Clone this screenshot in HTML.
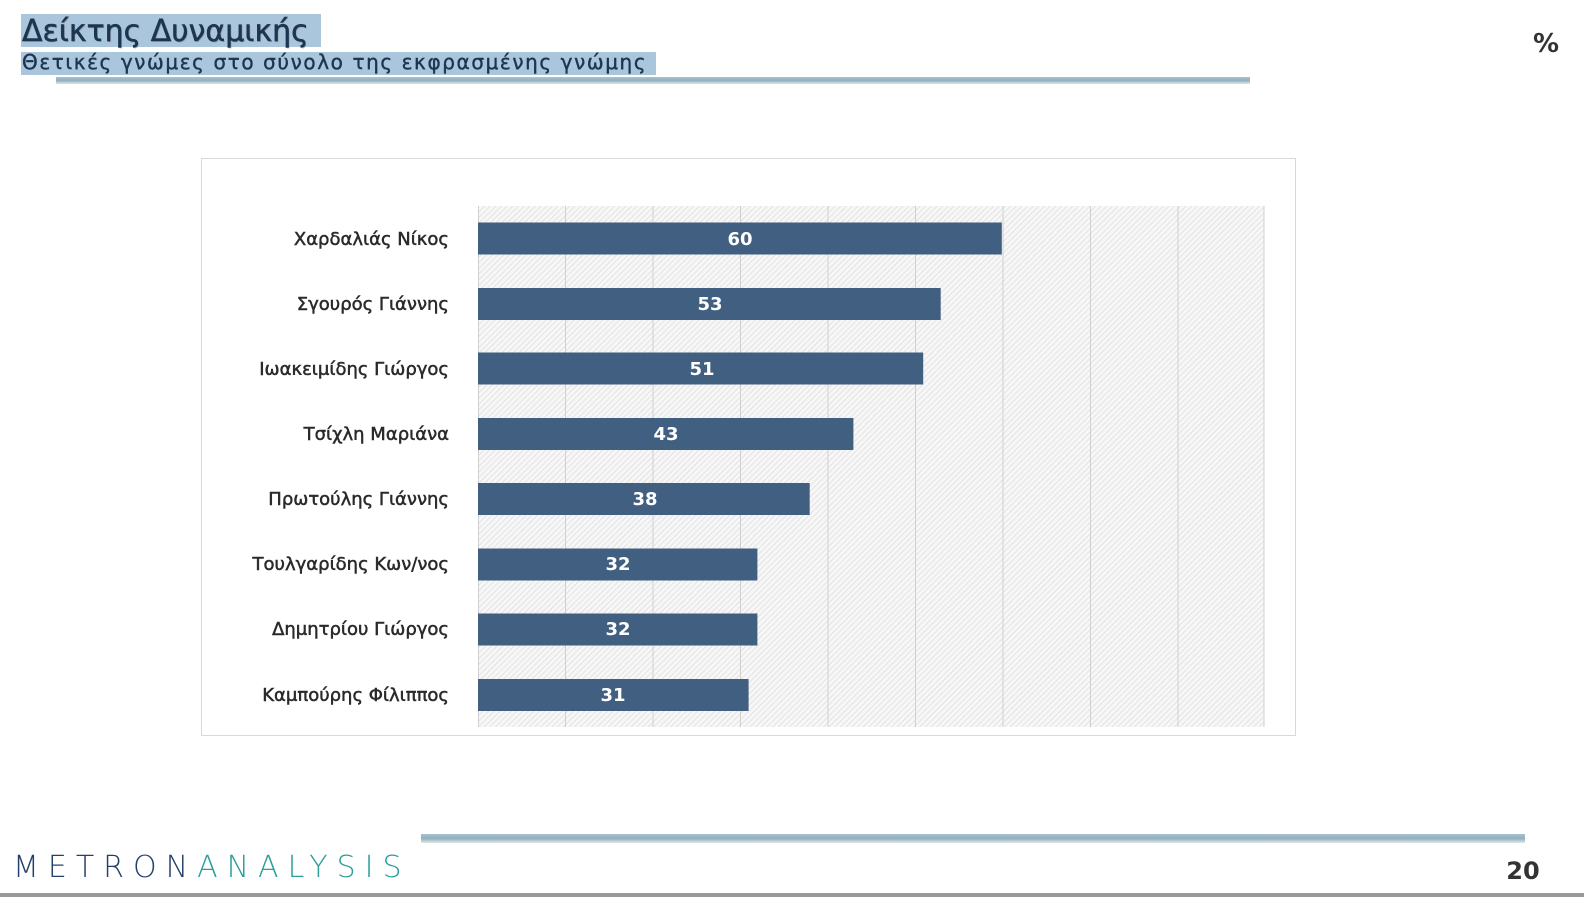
<!DOCTYPE html>
<html><head><meta charset="utf-8"><style>
html,body{margin:0;padding:0;background:#fff;}
body{width:1584px;height:897px;position:relative;overflow:hidden;font-family:"DejaVu Sans","Liberation Sans",sans-serif;}
</style></head><body>
<svg width="1584" height="897" viewBox="0 0 1584 897" xmlns="http://www.w3.org/2000/svg" style="position:absolute;left:0;top:0">
<defs>
<pattern id="h" width="4" height="4" patternUnits="userSpaceOnUse" patternTransform="rotate(45)">
<rect width="4" height="4" fill="#f7f7f7"/><line x1="0" y1="0" x2="0" y2="4" stroke="#d6d6d6" stroke-width="1.2"/>
</pattern>
<linearGradient id="ln" x1="0" x2="0" y1="0" y2="1"><stop offset="0" stop-color="#a9c3cf"/><stop offset="0.5" stop-color="#8fb0bf"/><stop offset="1" stop-color="#e6e6e6"/></linearGradient>
</defs>
<rect x="21" y="14" width="300" height="33" fill="#a9c6dd"/>
<rect x="21" y="52" width="635" height="23" fill="#a9c6dd"/>
<text x="23" y="42" font-size="30" fill="#888" opacity="0.5" font-family="DejaVu Sans,sans-serif">Δείκτης Δυναμικής</text>
<text x="22" y="41" font-size="30" fill="#1d3550" stroke="#1d3550" stroke-width="0.5" font-family="DejaVu Sans,sans-serif">Δείκτης Δυναμικής</text>
<text x="22" y="69" font-size="20" fill="#1d3550" stroke="#1d3550" stroke-width="0.4" letter-spacing="1.6" font-family="DejaVu Sans,sans-serif">Θετικές γνώμες στο σύνολο της εκφρασμένης γνώμης</text>
<rect x="56" y="77" width="1194" height="7" fill="url(#ln)"/>
<text x="1546" y="52" font-size="26" font-weight="bold" fill="#333" text-anchor="middle">%</text>
<rect x="201.5" y="158.5" width="1094" height="577" fill="#fff" stroke="#d9d9d9"/>
<rect x="478" y="206" width="786" height="521" fill="url(#h)"/>
<g stroke="#d0d0d0" stroke-width="1">
<line x1="565.5" y1="206" x2="565.5" y2="727"/><line x1="653" y1="206" x2="653" y2="727"/><line x1="740.5" y1="206" x2="740.5" y2="727"/>
<line x1="828" y1="206" x2="828" y2="727"/><line x1="915.5" y1="206" x2="915.5" y2="727"/><line x1="1003" y1="206" x2="1003" y2="727"/>
<line x1="1090.5" y1="206" x2="1090.5" y2="727"/><line x1="1178" y1="206" x2="1178" y2="727"/><line x1="1264" y1="206" x2="1264" y2="727"/>
<line x1="478.5" y1="206" x2="478.5" y2="727"/>
</g>
<g fill="#415f80">
<rect x="478" y="222.5" width="523.8" height="32"/>
<rect x="478" y="288" width="462.7" height="32"/>
<rect x="478" y="352.5" width="445.2" height="32"/>
<rect x="478" y="418" width="375.4" height="32"/>
<rect x="478" y="483" width="331.7" height="32"/>
<rect x="478" y="548.5" width="279.4" height="32"/>
<rect x="478" y="613.5" width="279.4" height="32"/>
<rect x="478" y="679" width="270.6" height="32"/>
</g>
<g fill="#fff" font-size="18" font-weight="bold" text-anchor="middle">
<text x="740" y="245">60</text><text x="710" y="310">53</text><text x="702" y="375">51</text><text x="666" y="440">43</text>
<text x="645" y="505">38</text><text x="618" y="570">32</text><text x="618" y="635">32</text><text x="613" y="701">31</text>
</g>
<g fill="#2a2a2a" stroke="#2a2a2a" stroke-width="0.5" font-size="18" text-anchor="end" font-family="DejaVu Sans,sans-serif">
<text x="449" y="245">Χαρδαλιάς Νίκος</text>
<text x="449" y="310">Σγουρός Γιάννης</text>
<text x="449" y="375">Ιωακειμίδης Γιώργος</text>
<text x="449" y="440">Τσίχλη Μαριάνα</text>
<text x="449" y="505">Πρωτούλης Γιάννης</text>
<text x="449" y="570">Τουλγαρίδης Κων/νος</text>
<text x="449" y="635">Δημητρίου Γιώργος</text>
<text x="449" y="701">Καμπούρης Φίλιππος</text>
</g>
<rect x="421" y="834" width="1104" height="9" fill="url(#ln)"/>
<text x="13" y="877" font-size="30" letter-spacing="9" fill="#24406a" font-family="DejaVu Sans,sans-serif" font-weight="200">METRON<tspan fill="#2a9e98">ANALYSIS</tspan></text>
<text x="1523" y="879" font-size="24" font-weight="bold" fill="#333" text-anchor="middle">20</text>
<rect x="0" y="893" width="1584" height="4" fill="#999"/>
</svg>
</body></html>
